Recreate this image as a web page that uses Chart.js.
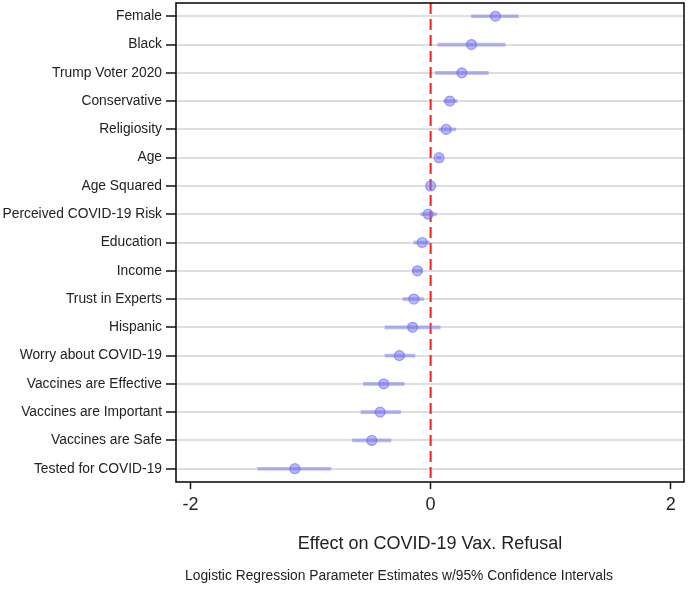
<!DOCTYPE html>
<html>
<head>
<meta charset="utf-8">
<script src="https://cdn.jsdelivr.net/npm/chart.js@4/dist/chart.umd.min.js"></script>
<style>
    html, body { margin: 0; padding: 0; background: #fff; }
    #wrap { width: 688px; height: 592px; }
</style>
</head>
<body>
<div id="wrap"><canvas id="graficoCoef" width="688" height="592"></canvas></div>
<script>
const variabili = [
    'Female', 'Black', 'Trump Voter 2020', 'Conservative', 'Religiosity', 'Age',
    'Age Squared', 'Perceived COVID-19 Risk', 'Education', 'Income', 'Trust in Experts',
    'Hispanic', 'Worry about COVID-19', 'Vaccines are Effective', 'Vaccines are Important',
    'Vaccines are Safe', 'Tested for COVID-19'
];
const stime = [0.54, 0.34, 0.26, 0.16, 0.13, 0.07, 0.00, -0.02, -0.07, -0.11, -0.14, -0.15, -0.26, -0.39, -0.42, -0.49, -1.13];
const ciBasso = [0.34, 0.06, 0.04, 0.11, 0.07, 0.05, -0.01, -0.08, -0.14, -0.15, -0.23, -0.38, -0.38, -0.56, -0.58, -0.65, -1.44];
const ciAlto = [0.73, 0.62, 0.48, 0.22, 0.21, 0.09, 0.01, 0.05, -0.01, -0.07, -0.06, 0.08, -0.13, -0.22, -0.25, -0.33, -0.83];
const tickX = [-2, 0, 2];
const valoreRiferimento = 0;

const titoloAsse = 'Effect on COVID-19 Vax. Refusal';
const notaPiede = 'Logistic Regression Parameter Estimates w/95% Confidence Intervals';
const fontBase = "'Liberation Sans', Arial, sans-serif";

// linea rossa tratteggiata a zero + cornice + nota in basso
const pluginExtra = {
    id: 'extra',
    beforeDatasetsDraw(chart) {
        const { ctx, chartArea, scales } = chart;
        const x = scales.x.getPixelForValue(valoreRiferimento);
        ctx.save();
        ctx.strokeStyle = '#ff1a1a';
        ctx.lineWidth = 2;
        ctx.setLineDash([11, 5]);
        ctx.beginPath();
        ctx.moveTo(x, chartArea.top);
        ctx.lineTo(x, chartArea.bottom);
        ctx.stroke();
        ctx.restore();
    },
    afterDraw(chart) {
        const { ctx, chartArea } = chart;
        ctx.save();
        ctx.strokeStyle = '#111';
        ctx.lineWidth = 1.6;
        ctx.strokeRect(chartArea.left, chartArea.top, chartArea.right - chartArea.left, chartArea.bottom - chartArea.top);
        ctx.fillStyle = '#222';
        ctx.font = '13.8px ' + fontBase;
        ctx.textAlign = 'center';
        ctx.textBaseline = 'middle';
        ctx.fillText(notaPiede, 399, 576);
        ctx.restore();
    }
};

const ctx = document.getElementById('graficoCoef').getContext('2d');
new Chart(ctx, {
    type: 'bar',
    data: {
        datasets: [{
            type: 'bar',
            label: '95% CI',
            data: variabili.map((v, i) => ({ y: i, x: [ciBasso[i], ciAlto[i]] })),
            backgroundColor: 'rgba(125, 125, 240, 0.55)',
            borderWidth: 0,
            barThickness: 3,
            order: 2
        }, {
            type: 'scatter',
            label: 'Stima',
            data: variabili.map((v, i) => ({ y: i, x: stime[i] })),
            pointRadius: 5,
            pointBackgroundColor: 'rgba(115, 115, 245, 0.5)',
            pointBorderColor: 'rgba(100, 100, 230, 0.55)',
            pointBorderWidth: 1.2,
            order: 1
        }]
    },
    options: {
        indexAxis: 'y',
        responsive: false,
        animation: false,
        layout: { autoPadding: false, padding: { top: 3, right: 4, left: 0, bottom: 0 } },
        scales: {
            x: {
                type: 'linear',
                min: -2.12,
                max: 2.11,
                offset: false,
                afterBuildTicks: axis => { axis.ticks = tickX.map(v => ({ value: v })); },
                afterFit: scale => {
                    scale.height = 110;
                    scale.paddingLeft = 0;
                    scale.paddingRight = 0;
                },
                border: { display: false },
                grid: {
                    offset: false,
                    drawOnChartArea: false,
                    drawTicks: true,
                    tickLength: 7,
                    tickColor: '#111',
                    tickWidth: 1.5
                },
                ticks: {
                    color: '#222',
                    padding: 5,
                    font: { family: fontBase, size: 18 },
                    maxRotation: 0
                },
                title: {
                    display: true,
                    text: titoloAsse,
                    color: '#222',
                    font: { family: fontBase, size: 18 },
                    padding: { top: 0, bottom: 37 }
                }
            },
            y: {
                type: 'linear',
                reverse: true,
                min: -0.47,
                max: 16.47,
                offset: false,
                afterBuildTicks: axis => { axis.ticks = variabili.map((v, i) => ({ value: i })); },
                afterFit: scale => {
                    scale.width = 176;
                    scale.paddingTop = 0;
                    scale.paddingBottom = 0;
                },
                border: { display: false },
                grid: {
                    offset: false,
                    color: '#dedede',
                    lineWidth: 2,
                    tickColor: '#111',
                    tickWidth: 1.5,
                    tickLength: 10
                },
                ticks: {
                    color: '#222',
                    padding: 4,
                    autoSkip: false,
                    font: { family: fontBase, size: 13.8 },
                    callback: value => variabili[value]
                }
            }
        },
        plugins: {
            legend: { display: false },
            tooltip: { enabled: false }
        }
    },
    plugins: [pluginExtra]
});
</script>
</body>
</html>
